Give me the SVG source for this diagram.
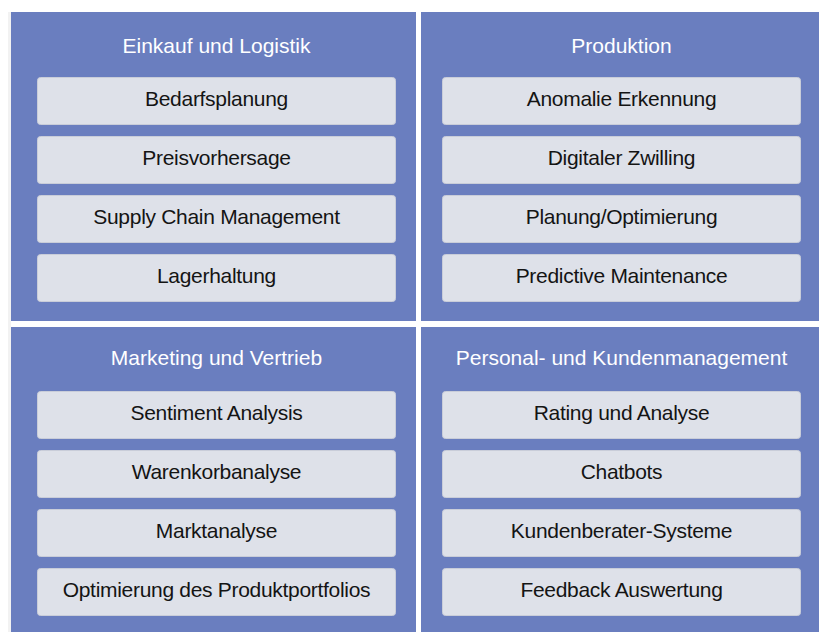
<svg xmlns="http://www.w3.org/2000/svg" width="819" height="632" viewBox="0 0 819 632">
<style>
.panel{fill:#6A7EBF}
.box{fill:#DEE1E9;stroke:#C9CDD9;stroke-width:1}
.t{font-family:"Liberation Sans",Arial,sans-serif;font-size:21px;letter-spacing:-0.3px;fill:#141414;text-anchor:middle}
.h{font-family:"Liberation Sans",Arial,sans-serif;font-size:21px;fill:#FFFFFF;text-anchor:middle}
</style>
<rect width="819" height="632" fill="#FFFFFF"/>
<rect x="8" y="12" width="3" height="620" fill="#F2F2F2"/>
<g id="einkauf">
<rect class="panel" x="11" y="12" width="405" height="309"/>
<text class="h" x="216.5" y="53">Einkauf und Logistik</text>
<rect class="box" x="37.5" y="77.5" width="358" height="47" rx="3"/>
<text class="t" x="216.5" y="106">Bedarfsplanung</text>
<rect class="box" x="37.5" y="136.5" width="358" height="47" rx="3"/>
<text class="t" x="216.5" y="165">Preisvorhersage</text>
<rect class="box" x="37.5" y="195.5" width="358" height="47" rx="3"/>
<text class="t" x="216.5" y="224">Supply Chain Management</text>
<rect class="box" x="37.5" y="254.5" width="358" height="47" rx="3"/>
<text class="t" x="216.5" y="283">Lagerhaltung</text>
</g>
<g id="produktion">
<rect class="panel" x="421" y="12" width="398" height="309"/>
<text class="h" x="621.5" y="53">Produktion</text>
<rect class="box" x="442.5" y="77.5" width="358" height="47" rx="3"/>
<text class="t" x="621.5" y="106">Anomalie Erkennung</text>
<rect class="box" x="442.5" y="136.5" width="358" height="47" rx="3"/>
<text class="t" x="621.5" y="165">Digitaler Zwilling</text>
<rect class="box" x="442.5" y="195.5" width="358" height="47" rx="3"/>
<text class="t" x="621.5" y="224">Planung/Optimierung</text>
<rect class="box" x="442.5" y="254.5" width="358" height="47" rx="3"/>
<text class="t" x="621.5" y="283">Predictive Maintenance</text>
</g>
<g id="marketing">
<rect class="panel" x="11" y="327" width="405" height="305"/>
<text class="h" x="216.5" y="365">Marketing und Vertrieb</text>
<rect class="box" x="37.5" y="391.5" width="358" height="47" rx="3"/>
<text class="t" x="216.5" y="420">Sentiment Analysis</text>
<rect class="box" x="37.5" y="450.5" width="358" height="47" rx="3"/>
<text class="t" x="216.5" y="479">Warenkorbanalyse</text>
<rect class="box" x="37.5" y="509.5" width="358" height="47" rx="3"/>
<text class="t" x="216.5" y="538">Marktanalyse</text>
<rect class="box" x="37.5" y="568.5" width="358" height="47" rx="3"/>
<text class="t" x="216.5" y="597">Optimierung des Produktportfolios</text>
</g>
<g id="personal">
<rect class="panel" x="421" y="327" width="398" height="305"/>
<text class="h" x="621.5" y="365">Personal- und Kundenmanagement</text>
<rect class="box" x="442.5" y="391.5" width="358" height="47" rx="3"/>
<text class="t" x="621.5" y="420">Rating und Analyse</text>
<rect class="box" x="442.5" y="450.5" width="358" height="47" rx="3"/>
<text class="t" x="621.5" y="479">Chatbots</text>
<rect class="box" x="442.5" y="509.5" width="358" height="47" rx="3"/>
<text class="t" x="621.5" y="538">Kundenberater-Systeme</text>
<rect class="box" x="442.5" y="568.5" width="358" height="47" rx="3"/>
<text class="t" x="621.5" y="597">Feedback Auswertung</text>
</g>
<g id="connectors"></g>
</svg>
